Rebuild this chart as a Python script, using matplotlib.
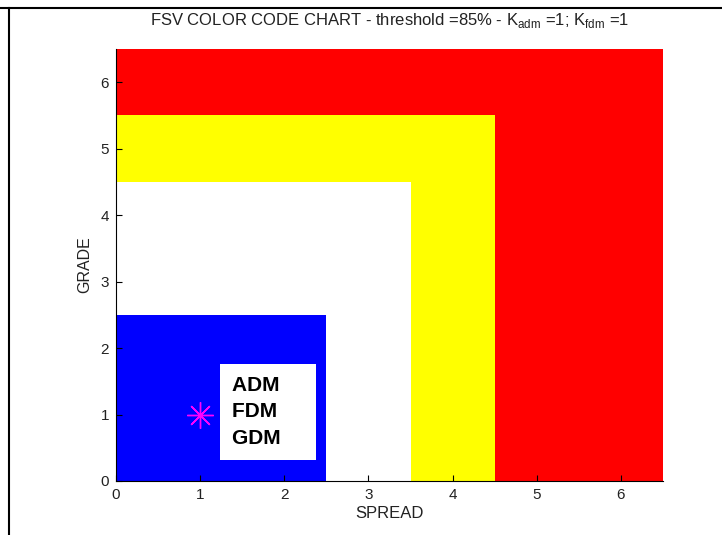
import matplotlib
matplotlib.use("Agg")
import matplotlib.pyplot as plt
from matplotlib.patches import Rectangle
from matplotlib.lines import Line2D

plt.rcParams["font.family"] = ["Liberation Sans", "DejaVu Sans"]
plt.rcParams["mathtext.fontset"] = "custom"
plt.rcParams["mathtext.rm"] = "Liberation Sans"

# colour zones: (upper spread, upper grade, colour), drawn back to front
zone_spread = [6.5, 4.5, 3.5, 2.5]
zone_grade = [6.5, 5.5, 4.5, 2.5]
zone_colors = ["#ff0000", "#ffff00", "#ffffff", "#0000ff"]

point_spread = [1]
point_grade = [1]
point_labels = ["ADM", "FDM", "GDM"]

threshold = 85
k_adm = 1
k_fdm = 1

fig = plt.figure(figsize=(7.22, 5.35), dpi=100)
ax = fig.add_axes([116 / 722, 1 - 481 / 535, (663 - 116) / 722, (481 - 49) / 535])

for sx, gy, c in zip(zone_spread, zone_grade, zone_colors):
    ax.add_patch(Rectangle((0, 0), sx, gy, facecolor=c, edgecolor="none", zorder=1))

ax.plot(point_spread, point_grade, linestyle="none", marker=(8, 2, 0),
        markersize=19, markeredgewidth=1.0, color="#ff00ff", zorder=3)

ax.text(1.38, 1.04, "\n".join(s + "    " for s in point_labels),
        ha="left", va="center", fontsize=15, fontweight="bold",
        linespacing=1.48, zorder=4,
        bbox=dict(boxstyle="square,pad=0.58", facecolor="white", edgecolor="none"))

ax.set_xlim(0, 6.5)
ax.set_ylim(0, 6.5)
ax.set_xticks(range(7))
ax.set_yticks(range(7))
ax.tick_params(direction="in", length=4, width=0.8, labelsize=11,
               labelcolor="#222222", pad=5)
for side in ("top", "right"):
    ax.spines[side].set_visible(False)
for side in ("left", "bottom"):
    ax.spines[side].set_linewidth(0.8)
    ax.spines[side].set_zorder(5)

ax.set_xlabel("SPREAD", fontsize=12, color="#222222", labelpad=3)
ax.set_ylabel("GRADE", fontsize=11.5, color="#222222", labelpad=6)
ax.set_title(f"FSV COLOR CODE CHART - threshold ={threshold}% - "
             rf"K$_{{\rm adm}}$ ={k_adm}; K$_{{\rm fdm}}$ ={k_fdm}",
             fontsize=12, color="#222222", pad=17)

# frame lines along the top and left edges of the page
fig.add_artist(Line2D([0, 1], [1 - 8 / 535, 1 - 8 / 535], color="black", linewidth=1.5))
fig.add_artist(Line2D([9 / 722, 9 / 722], [0, 1 - 8 / 535], color="black", linewidth=1.5))

fig.savefig("out.png", dpi=100)
